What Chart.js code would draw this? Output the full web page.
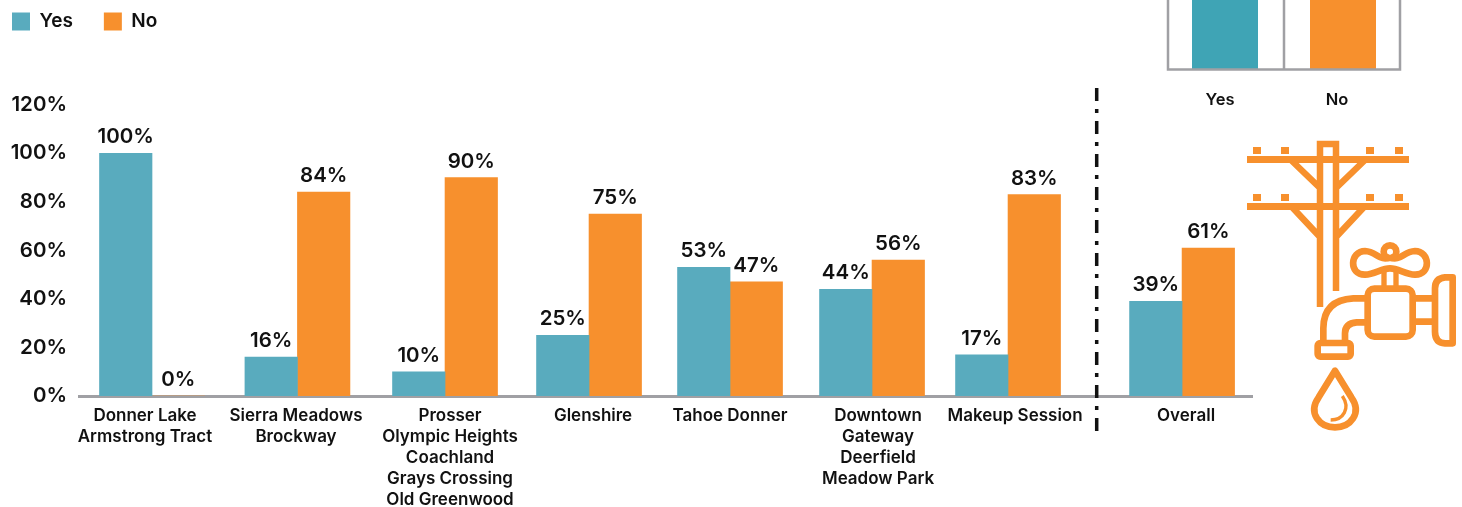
<!DOCTYPE html>
<html>
<head>
<meta charset="utf-8">
<title>Yes / No by area</title>
<script src="https://cdn.jsdelivr.net/npm/chart.js@4"></script>
<style>
    html, body { margin: 0; padding: 0; background: #fff; }
    canvas { display: block; }
</style>
</head>
<body>
<canvas id="grafico" width="1462" height="507"></canvas>
<script>
const categories = [
    ["Donner Lake", "Armstrong Tract"],
    ["Sierra Meadows", "Brockway"],
    ["Prosser", "Olympic Heights", "Coachland", "Grays Crossing", "Old Greenwood"],
    ["Glenshire"],
    ["Tahoe Donner"],
    ["Downtown", "Gateway", "Deerfield", "Meadow Park"],
    ["Makeup Session"],
    ["Overall"]
];
const yesValues = [100, 16, 10, 25, 53, 44, 17, 39];
const noValues = [0, 84, 90, 75, 47, 56, 83, 61];
const yTicks = [0, 20, 40, 60, 80, 100, 120];

// the groups are not evenly spaced in the original, labels are a bit off the bars too
const groupSlots = [0, 1.017, 2.049, 3.056, 4.042, 5.035, 5.986, 7.203];
const labelSlots = [-0.049, 1.007, 2.084, 3.084, 4.042, 5.077, 6.035, 7.231];

const TEAL = "#59abbe";
const ORANGE = "#f7902d";
const TESTO = "#111111";
const GRIGIO = "#a0a0a4";
const FONT = "Inter";

const toPoints = vals => vals.map((v, i) => ({ x: groupSlots[i], y: v }));

// percent labels over the bars
const etichette = {
    id: "etichette",
    afterDatasetsDraw(chart) {
        const ctx = chart.ctx;
        ctx.save();
        ctx.font = "600 20.5px " + FONT;
        ctx.fillStyle = TESTO;
        ctx.textAlign = "center";
        ctx.textBaseline = "alphabetic";
        chart.data.datasets.forEach((ds, d) => {
            chart.getDatasetMeta(d).data.forEach((bar, i) => {
                ctx.fillText(ds.data[i].y + "%", bar.x, bar.y - 10);
            });
        });
        ctx.restore();
    }
};

// legend sits at the very top left, its box is bigger than what it shows
const legendaAlto = {
    id: "legendaAlto",
    afterLayout(chart) {
        const l = chart.legend;
        l.left = -19;
        l.right = 1462;
        l.top = -19;
        l.bottom = 100;
    }
};

// everything that is not the chart: separator, cropped box top right, icon
const decorazioni = {
    id: "decorazioni",
    afterDraw(chart) {
        const ctx = chart.ctx;

        ctx.save();
        ctx.strokeStyle = TESTO;
        ctx.lineWidth = 3.5;
        ctx.setLineDash([13, 8, 4, 8]);
        ctx.beginPath();
        ctx.moveTo(1096.7, 88);
        ctx.lineTo(1096.7, 434);
        ctx.stroke();
        ctx.restore();

        ctx.save();
        ctx.fillStyle = "#3fa4b5";
        ctx.fillRect(1192, 0, 66, 69);
        ctx.fillStyle = ORANGE;
        ctx.fillRect(1310, 0, 66, 69);
        ctx.strokeStyle = GRIGIO;
        ctx.lineWidth = 2.5;
        ctx.beginPath();
        ctx.moveTo(1168, 0); ctx.lineTo(1168, 69.5); ctx.lineTo(1400, 69.5); ctx.lineTo(1400, 0);
        ctx.moveTo(1284, 0); ctx.lineTo(1284, 69.5);
        ctx.stroke();
        ctx.fillStyle = TESTO;
        ctx.font = "600 16.5px " + FONT;
        ctx.textAlign = "center";
        ctx.textBaseline = "middle";
        ctx.fillText("Yes", 1220, 100);
        ctx.fillText("No", 1337, 100);
        ctx.restore();

        // pole
        ctx.save();
        ctx.fillStyle = ORANGE;
        ctx.strokeStyle = ORANGE;
        ctx.lineWidth = 6.5;
        ctx.fillRect(1247, 156, 162, 7);
        ctx.fillRect(1247, 203, 162, 7);
        [1253, 1281, 1366, 1395].forEach(x => {
            ctx.fillRect(x, 147, 8, 7);
            ctx.fillRect(x, 194, 8, 7);
        });
        ctx.beginPath();
        ctx.moveTo(1320, 307); ctx.lineTo(1320, 144); ctx.lineTo(1336, 144); ctx.lineTo(1336, 291);
        ctx.moveTo(1291, 160); ctx.lineTo(1320, 188);
        ctx.moveTo(1365, 160); ctx.lineTo(1336, 188);
        ctx.moveTo(1291, 206); ctx.lineTo(1320, 237);
        ctx.moveTo(1365, 206); ctx.lineTo(1336, 237);
        ctx.stroke();
        ctx.restore();

        // faucet and drop, coords taken on a 3x grid
        ctx.save();
        ctx.translate(1230, 200);
        ctx.scale(1 / 3, 1 / 3);
        ctx.strokeStyle = ORANGE;
        ctx.lineWidth = 20;
        ctx.lineJoin = "round";
        ctx.lineCap = "butt";

        ctx.beginPath();
        ctx.moveTo(480, 172);
        ctx.bezierCurveTo(450, 185, 440, 155, 405, 153);
        ctx.bezierCurveTo(360, 153, 355, 225, 405, 224);
        ctx.bezierCurveTo(435, 222, 455, 205, 480, 205);
        ctx.bezierCurveTo(505, 205, 525, 222, 555, 224);
        ctx.bezierCurveTo(605, 225, 600, 153, 555, 153);
        ctx.bezierCurveTo(520, 155, 510, 185, 480, 172);
        ctx.stroke();
        ctx.beginPath();
        ctx.arc(480, 155, 19, 0, Math.PI * 2);
        ctx.stroke();

        ctx.lineWidth = 16;
        ctx.beginPath();
        ctx.moveTo(462, 210); ctx.lineTo(462, 262);
        ctx.moveTo(498, 210); ctx.lineTo(498, 262);
        ctx.stroke();
        ctx.lineWidth = 20;

        ctx.beginPath();
        ctx.roundRect(413, 266, 135, 144, 20);
        ctx.stroke();

        ctx.beginPath();
        ctx.moveTo(548, 295); ctx.lineTo(615, 295);
        ctx.moveTo(548, 365); ctx.lineTo(615, 365);
        ctx.stroke();

        ctx.beginPath();
        ctx.moveTo(668, 232);
        ctx.lineTo(645, 232);
        ctx.quadraticCurveTo(615, 235, 615, 265);
        ctx.lineTo(615, 395);
        ctx.quadraticCurveTo(615, 428, 645, 430);
        ctx.lineTo(668, 430);
        ctx.closePath();
        ctx.stroke();

        ctx.beginPath();
        ctx.moveTo(410, 295);
        ctx.lineTo(370, 295);
        ctx.quadraticCurveTo(280, 300, 280, 385);
        ctx.lineTo(280, 425);
        ctx.moveTo(410, 367);
        ctx.lineTo(380, 367);
        ctx.quadraticCurveTo(345, 370, 345, 400);
        ctx.lineTo(345, 425);
        ctx.stroke();

        ctx.beginPath();
        ctx.roundRect(263, 429, 99, 41, 8);
        ctx.stroke();

        ctx.beginPath();
        ctx.moveTo(315, 512);
        ctx.lineTo(266, 592);
        ctx.bezierCurveTo(232, 640, 270, 682, 315, 682);
        ctx.bezierCurveTo(360, 682, 398, 640, 364, 592);
        ctx.closePath();
        ctx.stroke();

        ctx.lineWidth = 10;
        ctx.beginPath();
        ctx.moveTo(337, 588);
        ctx.bezierCurveTo(362, 625, 340, 660, 302, 660);
        ctx.stroke();
        ctx.restore();
    }
};

const ctx = document.getElementById("grafico").getContext("2d");
const myChart = new Chart(ctx, {
    type: "bar",
    data: {
        datasets: [
            { label: "Yes", data: toPoints(yesValues), backgroundColor: TEAL, barThickness: 52.5 },
            { label: "No", data: toPoints(noValues), backgroundColor: ORANGE, barThickness: 52.5 }
        ]
    },
    options: {
        responsive: false,
        animation: false,
        layout: { padding: { top: 44.8, right: 210, left: 0, bottom: 0 } },
        plugins: {
            tooltip: { enabled: false },
            legend: {
                position: "top",
                align: "start",
                labels: {
                    boxWidth: 18,
                    boxHeight: 18,
                    padding: 31,
                    color: TESTO,
                    font: { family: FONT, size: 19, weight: "600" }
                }
            }
        },
        scales: {
            x: {
                type: "linear",
                offset: false,
                min: -0.5105,
                max: 7.692,
                grid: { display: false, drawTicks: false, offset: false },
                border: { color: GRIGIO, width: 3 },
                afterBuildTicks(axis) {
                    axis.ticks = labelSlots.map(v => ({ value: v }));
                },
                afterFit(axis) {
                    axis.height = 111;
                },
                ticks: {
                    autoSkip: false,
                    maxRotation: 0,
                    padding: 9,
                    color: TESTO,
                    font: { family: FONT, size: 17, weight: "600", lineHeight: "21px" },
                    callback: (value, index) => categories[index]
                }
            },
            y: {
                min: 0,
                max: 120,
                grid: { display: false, drawTicks: false },
                border: { display: false },
                afterBuildTicks(axis) {
                    axis.ticks = yTicks.map(v => ({ value: v }));
                },
                afterFit(axis) {
                    axis.width = 79;
                },
                ticks: {
                    padding: 12,
                    color: TESTO,
                    font: { family: FONT, size: 20.5, weight: "600" },
                    callback: v => v + "%"
                }
            }
        }
    },
    plugins: [etichette, legendaAlto, decorazioni]
});
</script>
</body>
</html>
